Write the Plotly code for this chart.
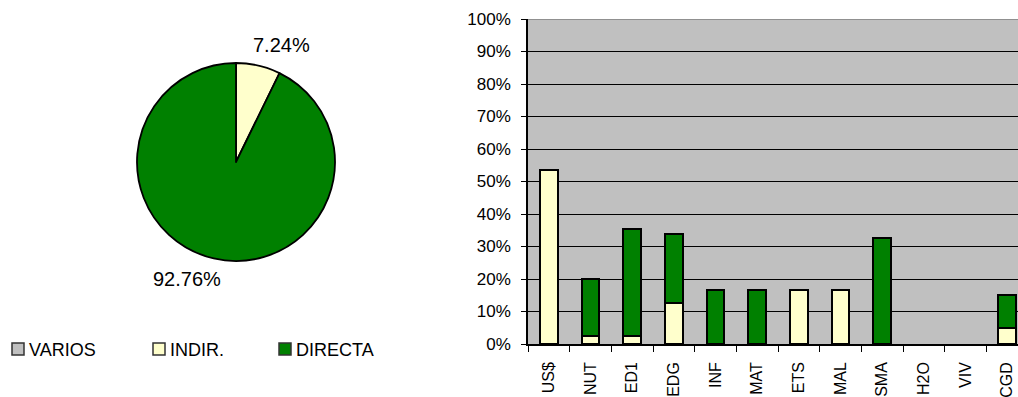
import plotly.graph_objects as go

# Share of cost by category and type
categories = ["US$", "NUT", "ED1", "EDG", "INF", "MAT", "ETS", "MAL", "SMA", "H2O", "VIV", "CGD"]
varios = [0, 0, 0, 0, 0, 0, 0, 0, 0, 0, 0, 0]
indir = [53.5, 2.4, 2.4, 12.6, 0, 0, 16.5, 16.5, 0, 0, 0, 4.9]
directa = [0, 17.7, 33.1, 21.2, 16.5, 16.5, 0, 0, 32.5, 0, 0, 10.2]

# Overall split shown in the pie
pie_labels = ["VARIOS", "INDIR.", "DIRECTA"]
pie_values = [0, 7.24, 92.76]

y_ticks = [0, 10, 20, 30, 40, 50, 60, 70, 80, 90, 100]

COL_VARIOS = "#C0C0C0"
COL_INDIR = "#FFFFCC"
COL_DIRECTA = "#008000"
FONT = "Liberation Sans, Arial, sans-serif"

W, H = 1018, 397


def px_x(x):
    return x / W


def px_y(y):
    return 1 - y / H


fig = go.Figure()

# Pie
cx, cy, r = 236, 162, 99
fig.add_trace(go.Pie(
    labels=pie_labels,
    values=pie_values,
    sort=False,
    direction="clockwise",
    rotation=0,
    marker=dict(colors=[COL_VARIOS, COL_INDIR, COL_DIRECTA],
                line=dict(color="#000000", width=1.8)),
    textinfo="none",
    hoverinfo="label+percent",
    showlegend=False,
    domain=dict(x=[px_x(cx - r), px_x(cx + r)], y=[px_y(cy + r), px_y(cy - r)]),
))

# Stacked bars (empty segments are left undrawn)
for name, vals, col in [("INDIR.", indir, COL_INDIR),
                        ("DIRECTA", directa, COL_DIRECTA),
                        ("VARIOS", varios, COL_VARIOS)]:
    fig.add_trace(go.Bar(
        x=categories,
        y=[v if v else None for v in vals],
        name=name,
        marker=dict(color=col, line=dict(color="#000000", width=2)),
        width=0.42,
        showlegend=False,
        xaxis="x", yaxis="y",
    ))

annotations = []
# Pie percentage labels
pie_label_pos = {"INDIR.": (281, 45), "DIRECTA": (187, 279)}
for lab, val in zip(pie_labels, pie_values):
    if lab in pie_label_pos:
        x, y = pie_label_pos[lab]
        annotations.append(dict(
            x=px_x(x), y=px_y(y), xref="paper", yref="paper",
            text=f"{val:.2f}%", showarrow=False,
            font=dict(family=FONT, size=20, color="#000000"),
            xanchor="center", yanchor="middle",
        ))

# Legend drawn as swatches plus text
shapes = []
legend_items = [("VARIOS", COL_VARIOS, 12), ("INDIR.", COL_INDIR, 153), ("DIRECTA", COL_DIRECTA, 279)]
for name, col, x0 in legend_items:
    shapes.append(dict(
        type="rect", xref="paper", yref="paper",
        x0=px_x(x0), x1=px_x(x0 + 12), y0=px_y(355), y1=px_y(343),
        fillcolor=col, line=dict(color="#333333", width=1.5),
    ))
    annotations.append(dict(
        x=px_x(x0 + 15), y=px_y(349.5), xref="paper", yref="paper",
        text=name, showarrow=False, xanchor="left", yanchor="middle",
        font=dict(family=FONT, size=18, color="#000000"),
    ))

# Top border of the plot area
shapes.append(dict(type="line", xref="paper", yref="y",
                   x0=px_x(528), x1=1, y0=100, y1=100,
                   line=dict(color="#808080", width=1.5)))

fig.update_layout(
    width=W, height=H,
    margin=dict(l=0, r=0, t=0, b=0),
    paper_bgcolor="#FFFFFF",
    plot_bgcolor=COL_VARIOS,
    barmode="stack",
    font=dict(family=FONT, size=17, color="#000000"),
    xaxis=dict(
        domain=[px_x(528), 1],
        type="category",
        range=[-0.5, 11.26],
        tickson="boundaries",
        ticks="outside", ticklen=6, tickcolor="#000000", tickwidth=1,
        tickangle=-90,
        ticklabelstandoff=10,
        tickfont=dict(family=FONT, size=16, color="#000000"),
        showline=True, linecolor="#000000", linewidth=1.5,
        showgrid=False, zeroline=False,
        automargin=False, fixedrange=True,
    ),
    yaxis=dict(
        domain=[px_y(344), px_y(19)],
        range=[0, 100],
        tickvals=y_ticks,
        ticktext=[f"{v}%" for v in y_ticks],
        ticks="outside", ticklen=5, tickcolor="#000000", tickwidth=1,
        ticklabelstandoff=7,
        tickfont=dict(family=FONT, size=17, color="#000000"),
        showline=True, linecolor="#000000", linewidth=1.5,
        showgrid=True, gridcolor="#000000", gridwidth=1,
        zeroline=False, automargin=False, fixedrange=True,
    ),
    annotations=annotations,
    shapes=shapes,
)

fig.write_html("out.html")
